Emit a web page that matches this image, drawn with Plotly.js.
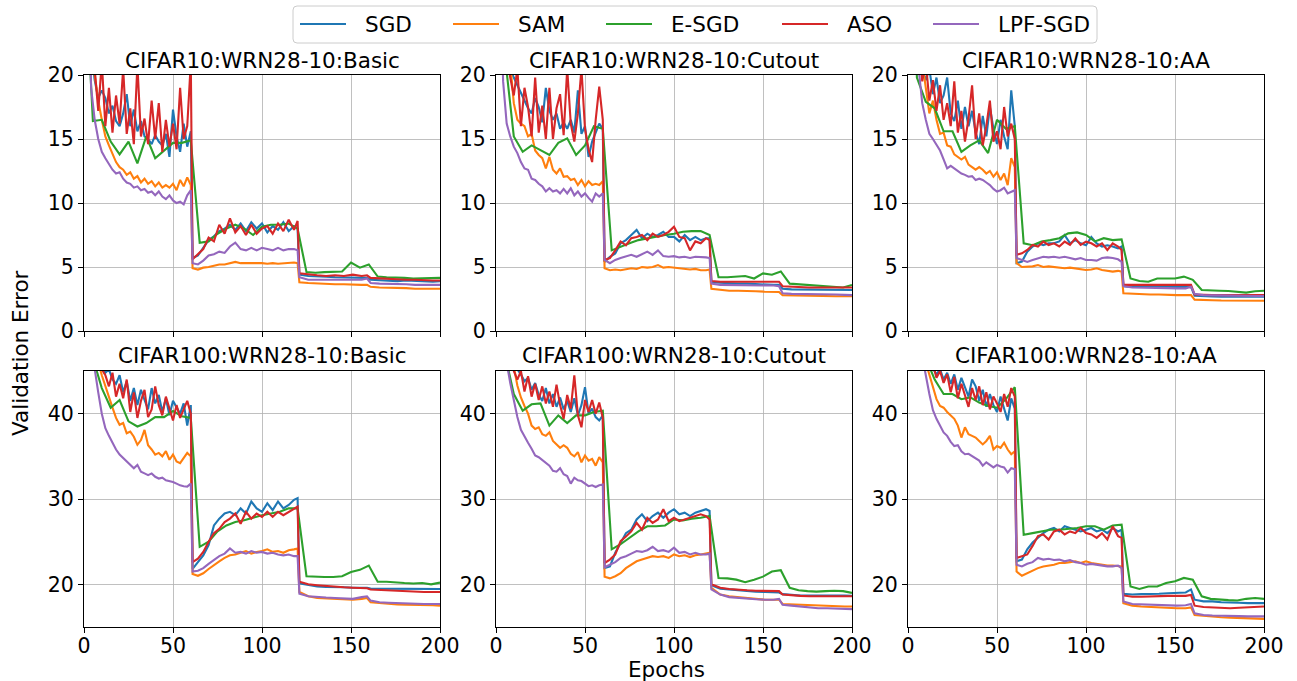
<!DOCTYPE html>
<html><head><meta charset="utf-8">
<script src="https://cdn.plot.ly/plotly-3.0.1.min.js"></script>
<style>html,body{margin:0;padding:0;background:#fff;} #chart{width:1297px;height:681px;}</style>
</head><body><div id="chart"></div>
<script>
// ---------- data ----------
const epochs = [0,2,4,6,8,10,12,14,16,18,20,22,24,26,28,30,32,34,36,38,40,42,44,46,48,50,52,54,56,58,60,
  61,64,67,70,73,76,79,82,85,88,91,94,97,100,103,106,109,112,115,118,120,
  121,126,131,136,141,146,151,156,159,161,166,171,176,181,186,191,196,200];
const esgdEpochs = [0,5,10,15,20,25,30,35,40,45,50,55,60,65,70,75,80,85,90,95,100,105,110,115,120,125,130,135,140,145,150,155,160,165,170,175,180,185,190,195,200];

const seriesNames = ['SGD','SAM','E-SGD','ASO','LPF-SGD'];
const seriesColors = ['#1f77b4','#ff7f0e','#2ca02c','#d62728','#9467bd'];
const panelTitles = ['CIFAR10:WRN28-10:Basic','CIFAR10:WRN28-10:Cutout','CIFAR10:WRN28-10:AA',
  'CIFAR100:WRN28-10:Basic','CIFAR100:WRN28-10:Cutout','CIFAR100:WRN28-10:AA'];
const xTicks = [0,50,100,150,200];
const yTicksC10 = [0,5,10,15,20];
const yTicksC100 = [20,30,40];

// CIFAR10 Basic
const c10bSgd = [60,32,22,19.6,18.2,18.8,18.2,17.0,17.6,16.4,16.0,17.0,18.5,16.0,17.3,15.6,16.4,15.2,15.0,14.6,15.3,14.8,14.5,15.4,13.6,17.3,15.2,14.0,16.2,14.4,15.6,
  5.7,5.9,6.5,7.1,7.4,7.8,8.0,8.3,7.9,8.4,7.8,8.5,8.0,8.4,7.7,8.2,7.9,8.5,7.8,8.2,8.0,
  4.4,4.3,4.3,4.25,4.2,4.2,4.2,4.15,4.15,4.0,3.95,3.95,3.9,3.95,3.9,3.9,3.85,3.9];
const c10bSam = [60,35,24,20,18,16.5,15.2,14.5,13.9,13.2,12.8,12.6,12.2,12.4,11.9,12.1,11.6,11.9,11.5,11.7,11.3,11.6,11.2,11.4,11.2,11.5,11.0,11.8,11.3,12.0,11.4,
  4.9,4.8,4.95,5.0,5.1,5.2,5.2,5.3,5.4,5.3,5.3,5.35,5.3,5.3,5.25,5.3,5.25,5.3,5.3,5.35,5.3,
  3.8,3.75,3.7,3.7,3.65,3.65,3.6,3.6,3.6,3.45,3.4,3.4,3.35,3.35,3.3,3.3,3.3,3.3];
const c10bEsgd = [30,16.4,16.5,14.8,13.8,14.8,13.1,15.2,13.5,14.1,14.7,14.7,14.9,6.9,7.0,7.6,8.0,8.3,8.0,7.5,8.15,8.3,8.3,8.4,8.0,4.6,4.55,4.6,4.6,4.65,5.35,4.95,5.2,4.25,4.2,4.2,4.15,4.1,4.1,4.1,4.15];
const c10bAso = [60,35,24,20.5,17.2,21,16.0,19.0,15.5,18.4,16.2,20.5,15.4,17.4,14.6,20.8,15.2,16.6,14.6,18.0,15.0,17.8,14.0,16.5,14.4,16.2,14.2,19.0,15.0,16.0,21.0,
  5.6,6.0,6.4,7.3,7.0,8.3,7.6,8.8,7.7,8.2,7.5,8.3,7.6,8.0,8.2,7.6,8.4,7.8,8.7,7.9,8.6,
  4.5,4.4,4.35,4.3,4.35,4.3,4.4,4.3,4.35,4.15,4.1,4.05,4.05,4.0,4.0,3.95,3.95,3.95];
const c10bLpf = [60,30,19,16.5,15,14,13.5,13.0,12.6,12.3,12.4,11.9,11.6,11.5,11.2,11.3,11.0,11.1,10.8,10.9,10.6,10.9,10.5,10.3,10.6,10.2,10.0,10.1,9.9,10.6,11.0,
  5.3,5.2,5.5,5.9,6.0,6.2,6.1,6.6,6.9,6.4,6.3,6.5,6.3,6.5,6.4,6.3,6.5,6.3,6.4,6.4,6.3,
  4.2,4.0,4.0,3.95,3.95,4.0,4.0,4.0,4.1,3.75,3.7,3.7,3.65,3.65,3.6,3.6,3.6,3.6];

// CIFAR10 Cutout
const c10cSgd = [70,40,26,21.5,20.5,19.8,19.2,18.5,18.0,17.4,17.0,18.2,17.5,16.3,19.0,17.2,16.5,17.0,15.8,16.3,15.8,16.5,15.5,18.8,15.4,16.0,13.6,14.8,15.5,16.2,15.8,
  5.4,5.8,6.05,6.85,7.1,7.5,7.9,7.25,7.6,7.35,7.5,7.75,7.35,7.35,7.0,7.5,7.1,7.35,7.1,7.25,7.25,
  3.8,3.75,3.7,3.7,3.7,3.65,3.65,3.6,3.6,3.3,3.25,3.25,3.2,3.2,3.2,3.2,3.2,3.2];
const c10cSam = [70,45,30,24,21,17.8,16.5,16.2,16.0,15.2,15.4,14.1,13.75,13.5,12.7,13.6,12.6,12.3,12.7,12.05,12.1,11.8,11.9,11.4,11.8,11.3,11.7,11.4,11.5,11.4,11.7,
  4.9,4.75,4.8,4.75,4.8,4.9,4.85,5.0,4.95,5.0,5.15,4.95,5.0,4.95,4.9,4.9,4.8,4.85,4.75,4.75,4.8,
  3.3,3.2,3.15,3.15,3.1,3.1,3.07,3.05,3.05,2.8,2.78,2.75,2.75,2.73,2.73,2.72,2.72,2.72];
const c10cEsgd = [45,21.5,15.2,14.0,14.5,14.1,13.75,14.7,15.05,13.75,14.5,16.0,15.8,6.3,6.6,6.85,7.1,7.25,7.4,7.5,7.6,7.75,7.8,7.8,7.5,4.2,4.2,4.25,4.3,4.1,4.5,4.4,4.65,3.7,3.65,3.6,3.6,3.5,3.45,3.4,3.6];
const c10cAso = [70,45,28,22,19.8,18.4,20.5,16.0,19.0,17.5,15.2,19.8,15.5,17.6,15.0,19.0,15.0,17.4,18.5,15.3,20.5,16.2,14.8,17.0,20.5,15.8,14.2,13.2,16.5,19.1,16.5,
  5.55,5.7,6.3,7.0,6.7,7.25,7.35,7.5,7.1,7.6,7.35,7.5,7.75,8.15,7.35,7.25,6.3,7.0,6.85,7.25,7.1,
  3.9,3.85,3.85,3.8,3.8,3.85,3.85,3.8,3.85,3.5,3.45,3.45,3.4,3.4,3.4,3.4,3.4,3.4];
const c10cLpf = [70,30,19.5,16.2,15.2,14.4,13.9,13.2,12.7,12.6,11.9,11.8,11.5,11.3,10.9,11.15,10.9,11.0,10.75,11.1,10.75,11.15,10.6,10.9,10.5,10.75,10.4,10.1,10.75,10.5,10.75,
  5.55,5.3,5.55,5.7,5.8,5.95,5.8,6.0,6.2,5.95,6.3,5.85,5.8,5.85,5.75,5.8,5.7,5.8,5.8,5.75,5.7,
  3.7,3.6,3.6,3.6,3.55,3.55,3.55,3.55,3.5,2.95,2.9,2.9,2.88,2.85,2.85,2.85,2.82,2.8];

// CIFAR10 AA
const c10aSgd = [80,45,30,22,20.5,19.6,20.5,18.5,19.8,17.8,18.4,19.8,17.0,16.4,18.0,15.8,17.5,16.0,17.2,15.5,14.6,16.8,15.2,17.5,15.8,14.6,16.5,15.2,14.2,18.8,16.0,
  5.3,5.42,6.2,6.6,6.85,6.7,6.85,6.85,7.0,7.5,6.85,7.1,6.85,6.7,7.35,6.85,6.6,6.7,6.6,6.45,6.6,
  3.5,3.45,3.45,3.45,3.45,3.45,3.45,3.4,3.45,2.75,2.7,2.7,2.68,2.68,2.68,2.68,2.65,2.68];
const c10aSam = [80,50,32,25,21,19.0,17.0,18.0,16.5,15.4,15.5,14.5,14.4,13.8,13.6,13.4,13.6,13.0,12.8,12.6,12.8,12.6,12.3,12.5,12.05,12.4,11.8,12.3,11.4,13.5,12.8,
  5.3,5.0,5.0,5.05,5.15,5.0,5.05,5.0,4.95,4.9,4.95,4.9,4.8,4.77,4.8,4.9,4.77,4.7,4.64,4.7,4.64,
  2.95,2.9,2.9,2.85,2.85,2.8,2.8,2.8,2.8,2.45,2.4,2.4,2.38,2.38,2.37,2.37,2.36,2.36];
const c10aEsgd = [45,19.8,17.9,17.4,15.6,15.6,14.0,14.5,14.9,13.9,16.5,15.8,16.0,6.85,6.7,7.0,7.1,7.25,7.63,7.7,7.5,7.0,7.25,7.1,7.16,4.1,3.9,3.85,4.1,4.1,4.1,4.25,4.0,3.2,3.15,3.15,3.13,3.07,3.0,3.1,3.15];
const c10aAso = [80,50,30,23,19.5,21,18.0,19.6,17.2,19.2,16.5,17.8,16.0,19.5,15.5,17.2,14.8,16.6,19.2,15.0,17.0,14.5,16.0,18.0,14.8,15.6,14.2,17.5,15.2,16.2,15.0,
  5.95,6.07,6.33,6.72,6.6,6.98,6.72,6.85,6.6,6.98,6.72,7.24,6.72,6.98,6.85,6.6,6.85,6.33,6.85,6.6,6.33,
  3.6,3.6,3.6,3.6,3.6,3.6,3.6,3.55,3.6,2.85,2.8,2.8,2.8,2.8,2.8,2.8,2.78,2.8];
const c10aLpf = [80,40,26,20.5,17.8,16.5,15.4,15.0,14.6,14.1,13.4,12.7,12.9,12.7,12.5,12.3,12.2,12.05,12.1,11.8,11.9,11.8,11.6,11.4,11.1,10.9,11.0,11.2,10.75,10.9,11.0,
  5.7,5.55,5.4,5.55,5.7,5.8,5.75,5.8,5.72,5.8,5.7,5.6,5.7,5.55,5.55,5.5,5.7,5.75,5.7,5.6,5.4,
  3.5,3.4,3.4,3.38,3.36,3.35,3.33,3.33,3.45,2.9,2.8,2.78,2.76,2.75,2.74,2.73,2.73,2.73];

// CIFAR100 Basic
const c100bSgd = [80,60,52,48,46,45.5,44.8,45.2,44.0,43.5,44.5,42.5,43.8,41.5,43.0,41.0,42.8,41.6,40.5,43.0,41.2,42.2,40.2,41.8,39.8,41.5,40.8,40.0,41.2,38.6,41.0,
  21.8,22.6,23.4,24.6,26.9,27.7,28.3,28.5,28.1,28.9,28.3,29.7,28.9,28.5,29.5,28.7,29.7,28.9,29.3,29.9,30.1,
  20.1,19.9,19.75,19.7,19.7,19.65,19.6,19.6,19.6,19.5,19.5,19.45,19.45,19.45,19.45,19.45,19.45,19.45];
const c100bSam = [80,60,52,48,46,44.5,43.2,41.8,40.7,39.5,38.7,38.9,37.7,37.9,37.3,36.35,36.9,38.1,36.3,35.8,35.2,35.4,35.0,35.6,34.6,35.2,34.4,34.2,34.8,35.4,35.0,
  21.2,21.0,21.3,21.8,22.3,22.7,23.1,23.4,23.5,23.7,23.9,23.6,23.8,23.9,24.1,23.8,23.9,23.7,24.0,24.1,24.2,
  19.1,18.6,18.4,18.35,18.3,18.25,18.2,18.3,18.4,17.9,17.8,17.7,17.65,17.6,17.6,17.6,17.55,17.5];
const c100bEsgd = [60,46.5,43.0,40.7,41.6,39.1,38.5,38.9,39.6,39.6,40.3,39.7,39.5,24.4,25.0,26.2,26.9,27.3,27.5,27.8,28.1,28.3,28.5,28.9,28.9,20.94,20.86,20.86,20.86,20.94,21.45,21.7,22.2,20.3,20.3,20.2,20.15,20.1,20.15,20.0,20.2];
const c100bAso = [80,60,52,48,46,45.2,44.5,43.2,44.8,42.0,43.5,41.8,44.0,40.2,42.5,39.5,41.5,42.8,39.6,40.5,43.2,41.0,39.8,42.0,40.5,39.2,41.0,39.5,40.5,41.5,40.0,
  22.6,23.0,23.8,25.0,26.0,26.5,27.3,27.7,28.3,27.1,28.5,27.7,28.3,27.9,28.5,27.9,28.5,28.1,28.5,28.9,29.1,
  20.3,20.0,19.9,19.8,19.7,19.65,19.6,19.6,19.55,19.4,19.35,19.3,19.2,19.2,19.15,19.1,19.1,19.1];
const c100bLpf = [80,58,48,45,42.5,40.0,38.3,37.4,36.6,35.8,35.2,34.8,34.4,34.0,33.6,34.0,33.2,33.0,32.8,33.0,32.6,32.4,32.5,32.2,32.1,32.0,31.8,31.6,31.5,31.45,31.8,
  21.5,21.6,21.9,22.4,22.9,23.3,23.6,24.2,23.7,23.8,23.6,23.9,23.7,23.8,23.6,23.7,23.5,23.4,23.5,23.3,23.3,
  18.9,18.6,18.5,18.45,18.4,18.35,18.3,18.5,18.6,18.1,17.9,17.85,17.8,17.8,17.75,17.7,17.7,17.7];

// CIFAR100 Cutout
const c100cSgd = [80,62,53,48.5,46.5,45.5,45.2,44.6,43.8,44.2,42.8,43.6,42.2,41.5,43.0,41.2,42.3,40.8,41.9,40.5,41.5,40.2,41.8,39.8,41.0,43.1,40.0,40.6,39.6,39.2,39.8,
  21.9,22.1,23.7,24.9,26.0,26.4,27.6,28.2,27.4,28.0,28.4,27.8,28.4,28.8,28.2,28.4,28.0,28.4,28.6,28.8,28.6,
  19.9,19.5,19.4,19.3,19.2,19.15,19.1,19.05,19.05,18.85,18.75,18.7,18.7,18.7,18.7,18.75,18.7,18.65];
const c100cSam = [80,62,54,50,47.5,45.5,43.3,41.9,40.9,40.0,38.6,38.2,38.4,37.6,37.4,37.8,36.8,36.4,36.0,36.3,36.0,35.3,35.0,35.5,34.3,35.1,34.5,34.7,33.9,34.9,34.3,
  20.9,20.7,20.95,21.3,21.9,22.3,22.7,22.9,23.1,23.3,23.2,23.3,23.1,23.5,23.3,23.4,23.2,23.4,23.5,23.6,23.7,
  19.6,18.8,18.6,18.5,18.4,18.3,18.2,18.2,18.2,17.7,17.65,17.6,17.55,17.5,17.5,17.45,17.4,17.4];
const c100cEsgd = [65,47,42.3,40.35,41.1,41.2,38.6,39.8,38.9,39.8,39.8,40.2,40.35,24.1,24.7,25.45,26.2,26.8,26.8,26.9,27.6,27.5,27.7,27.8,28.0,20.75,20.7,20.55,20.25,20.55,20.9,21.5,21.65,19.6,19.3,19.2,19.15,19.2,19.25,19.2,19.0];
const c100cAso = [80,62,53,48.5,46.5,45.0,44.0,45.0,42.6,44.4,42.0,43.5,41.6,43.2,41.2,42.6,40.8,43.4,41.0,39.4,42.2,40.6,44.5,39.8,38.4,41.6,40.2,41.6,40.0,41.3,39.5,
  22.5,22.9,23.5,25.05,25.6,26.2,27.2,26.4,27.8,27.2,27.6,28.8,27.4,27.8,27.4,27.6,27.8,28.0,28.2,28.0,27.6,
  20.0,19.6,19.45,19.35,19.3,19.25,19.2,19.2,19.2,18.8,18.7,18.65,18.6,18.6,18.6,18.6,18.6,18.6];
const c100cLpf = [80,58,50,46,43.6,41.4,39.6,38.1,37.3,36.6,35.9,35.1,34.9,34.6,34.2,33.9,33.3,33.2,33.6,32.9,32.7,31.8,32.5,32.2,32.1,31.8,31.5,31.6,31.4,31.6,31.7,
  22.0,22.3,22.6,23.1,23.3,23.6,23.9,23.8,24.0,24.4,23.9,24.0,23.8,24.3,23.7,23.8,23.5,23.7,23.5,23.5,23.6,
  19.4,18.8,18.5,18.4,18.3,18.25,18.2,18.2,18.3,17.6,17.5,17.4,17.3,17.2,17.2,17.15,17.1,17.1];

// CIFAR100 AA
const c100aSgd = [85,65,55,50,47.5,46.5,45.8,45.3,44.6,45.2,44.0,44.8,43.5,44.6,42.8,44.2,43.0,42.0,44.0,43.2,41.5,42.8,40.8,42.3,41.0,40.2,42.0,40.5,39.2,41.8,40.6,
  22.7,22.9,24.1,24.9,25.45,26.0,26.4,26.6,26.2,26.8,26.6,26.4,26.2,26.4,26.6,26.2,26.4,26.0,26.6,26.2,26.4,
  18.9,18.8,18.85,18.85,18.9,18.95,19.0,19.05,19.4,18.2,18.0,18.0,17.9,17.9,17.85,17.8,17.8,17.8];
const c100aSam = [85,65,56,51,48,46,44.5,43.0,41.7,40.9,40.7,40.2,39.8,39.4,38.6,37.2,38.4,37.6,37.4,37.2,36.8,36.4,36.8,37.4,35.8,36.2,36.0,36.6,35.8,35.25,35.6,
  21.5,21.0,21.3,21.65,21.9,22.1,22.2,22.3,22.5,22.5,22.6,22.7,22.5,22.7,22.5,22.4,22.3,22.2,22.2,22.1,22.1,
  17.8,17.5,17.4,17.35,17.3,17.2,17.2,17.2,17.3,16.4,16.3,16.25,16.15,16.1,16.05,16.0,16.0,15.95];
const c100aEsgd = [65,52,46.5,44.0,42.3,42.3,41.7,41.9,41.3,40.9,40.7,41.7,43.1,25.8,26.0,26.2,26.4,26.4,26.5,26.6,26.8,26.8,26.4,26.9,27.0,19.75,19.45,19.75,19.75,20.15,20.35,20.75,20.55,18.6,18.3,18.2,18.15,18.1,18.3,18.4,18.3];
const c100aAso = [85,65,55,50,47.5,46.0,45.2,45.8,44.2,45.0,43.6,44.6,42.5,44.3,41.8,43.5,42.2,40.8,43.0,41.6,43.2,41.0,42.5,40.5,42.0,41.2,40.2,42.3,40.8,43.0,42.0,
  23.1,23.3,23.5,24.5,25.65,25.85,25.25,26.2,26.4,25.85,26.2,26.0,26.6,26.0,25.85,25.45,26.0,25.25,26.8,25.65,25.45,
  18.7,18.55,18.55,18.6,18.6,18.65,18.65,18.65,18.75,17.5,17.35,17.3,17.25,17.2,17.25,17.3,17.35,17.4];
const c100aLpf = [85,62,53,49,46.5,44.5,42.3,40.4,39.4,38.6,37.8,37.4,36.7,36.2,36.3,35.6,35.25,35.3,35.05,34.7,34.5,33.9,34.3,34.0,33.7,34.0,33.8,33.7,33.1,33.6,33.5,
  22.3,22.1,22.4,22.6,23.1,22.9,23.0,22.85,22.9,22.7,22.85,22.6,22.5,22.3,22.4,22.3,22.2,22.1,22.1,22.2,21.9,
  18.0,17.7,17.65,17.6,17.55,17.5,17.5,17.55,17.7,16.6,16.4,16.35,16.3,16.3,16.28,16.25,16.25,16.25];

// ---------- build ----------
const panelData = [
  [c10bSgd, c10bSam, c10bEsgd, c10bAso, c10bLpf],
  [c10cSgd, c10cSam, c10cEsgd, c10cAso, c10cLpf],
  [c10aSgd, c10aSam, c10aEsgd, c10aAso, c10aLpf],
  [c100bSgd, c100bSam, c100bEsgd, c100bAso, c100bLpf],
  [c100cSgd, c100cSam, c100cEsgd, c100cAso, c100cLpf],
  [c100aSgd, c100aSam, c100aEsgd, c100aAso, c100aLpf]
];

const W = 1297, H = 681;
const colPx = [[84,440],[496,852],[908,1264]];
const rowPx = [[75,331],[371,627]];
const FONT = 'DejaVu Sans, Liberation Sans, sans-serif';
const px = v => v / W;
const py = v => 1 - v / H;

const traces = [];
panelData.forEach((series, p) => {
  const ax = p === 0 ? '' : String(p + 1);
  series.forEach((ys, k) => {
    traces.push({
      type: 'scatter', mode: 'lines',
      x: k === 2 ? esgdEpochs : epochs, y: ys,
      name: seriesNames[k], legendgroup: seriesNames[k], showlegend: false,
      line: {color: seriesColors[k], width: 2.1},
      xaxis: 'x' + ax, yaxis: 'y' + ax, hoverinfo: 'skip'
    });
  });
});

const layout = {
  width: W, height: H, autosize: false,
  margin: {l: 0, r: 0, t: 0, b: 0},
  paper_bgcolor: '#ffffff', plot_bgcolor: '#ffffff',
  font: {family: FONT, size: 20.5, color: '#000000'},
  showlegend: false,
  annotations: [],
  shapes: []
};

for (let p = 0; p < 6; p++) {
  const r = Math.floor(p / 3), c = p % 3;
  const ax = p === 0 ? '' : String(p + 1);
  const common = {
    showline: true, mirror: true, linecolor: '#000000', linewidth: 1,
    ticks: 'outside', ticklen: 5, tickwidth: 1, tickcolor: '#000000',
    showgrid: true, gridcolor: '#b0b0b0', gridwidth: 0.8, zeroline: false,
    tickfont: {family: FONT, size: 20.5, color: '#000000'},
    fixedrange: true
  };
  layout['xaxis' + ax] = Object.assign({}, common, {
    domain: [px(colPx[c][0]), px(colPx[c][1])], anchor: 'y' + ax, range: [0, 200], autorange: false,
    tickmode: 'array', tickvals: xTicks, ticktext: xTicks.map(String),
    showticklabels: r === 1, ticklabelstandoff: -5
  });
  layout['yaxis' + ax] = Object.assign({}, common, {
    domain: [py(rowPx[r][1]), py(rowPx[r][0])], anchor: 'x' + ax,
    range: r === 0 ? [0, 20] : [15, 45], autorange: false,
    tickmode: 'array', tickvals: r === 0 ? yTicksC10 : yTicksC100,
    ticktext: (r === 0 ? yTicksC10 : yTicksC100).map(String)
  });
  layout.annotations.push({
    text: panelTitles[p], showarrow: false, xref: 'paper', yref: 'paper',
    x: px((colPx[c][0] + colPx[c][1]) / 2), y: py(r === 0 ? 60 : 356),
    xanchor: 'center', yanchor: 'middle',
    font: {family: FONT, size: 21.5, color: '#000000'}
  });
}
layout.annotations.push({
  text: 'Validation Error', showarrow: false, xref: 'paper', yref: 'paper',
  x: px(20), y: py(353), xanchor: 'center', yanchor: 'middle', textangle: -90,
  font: {family: FONT, size: 21.5, color: '#000000'}
});
layout.annotations.push({
  text: 'Epochs', showarrow: false, xref: 'paper', yref: 'paper',
  x: px(666), y: py(669), xanchor: 'center', yanchor: 'middle',
  font: {family: FONT, size: 21.5, color: '#000000'}
});

// ---------- legend (drawn as a framed row of line samples and labels) ----------
const legBox = {x0: 293, x1: 1097, y0: 6, y1: 43, r: 4};
const legLineStart = [300, 453, 606, 782, 933];
const legLineLen = 46, legTextGap = 17, legY = 24;
(function () {
  const b = legBox;
  const P = (x, y) => px(x) + ',' + py(y);
  const path = 'M' + P(b.x0 + b.r, b.y0) + ' L' + P(b.x1 - b.r, b.y0) +
    ' Q' + P(b.x1, b.y0) + ' ' + P(b.x1, b.y0 + b.r) +
    ' L' + P(b.x1, b.y1 - b.r) + ' Q' + P(b.x1, b.y1) + ' ' + P(b.x1 - b.r, b.y1) +
    ' L' + P(b.x0 + b.r, b.y1) + ' Q' + P(b.x0, b.y1) + ' ' + P(b.x0, b.y1 - b.r) +
    ' L' + P(b.x0, b.y0 + b.r) + ' Q' + P(b.x0, b.y0) + ' ' + P(b.x0 + b.r, b.y0) + ' Z';
  layout.shapes.push({type: 'path', xref: 'paper', yref: 'paper', path: path,
    line: {color: '#cccccc', width: 1}, fillcolor: 'rgba(255,255,255,0.8)', layer: 'above'});
})();
seriesNames.forEach((name, k) => {
  const x0 = legLineStart[k];
  layout.shapes.push({type: 'line', xref: 'paper', yref: 'paper',
    x0: px(x0), x1: px(x0 + legLineLen), y0: py(legY), y1: py(legY),
    line: {color: seriesColors[k], width: 2.1}, layer: 'above'});
  layout.annotations.push({
    text: name, showarrow: false, xref: 'paper', yref: 'paper',
    x: px(x0 + legLineLen + legTextGap), y: py(legY), xanchor: 'left', yanchor: 'middle',
    font: {family: FONT, size: 21.5, color: '#000000'}
  });
});

Plotly.newPlot('chart', traces, layout, {displayModeBar: false, staticPlot: true});
</script></body></html>
